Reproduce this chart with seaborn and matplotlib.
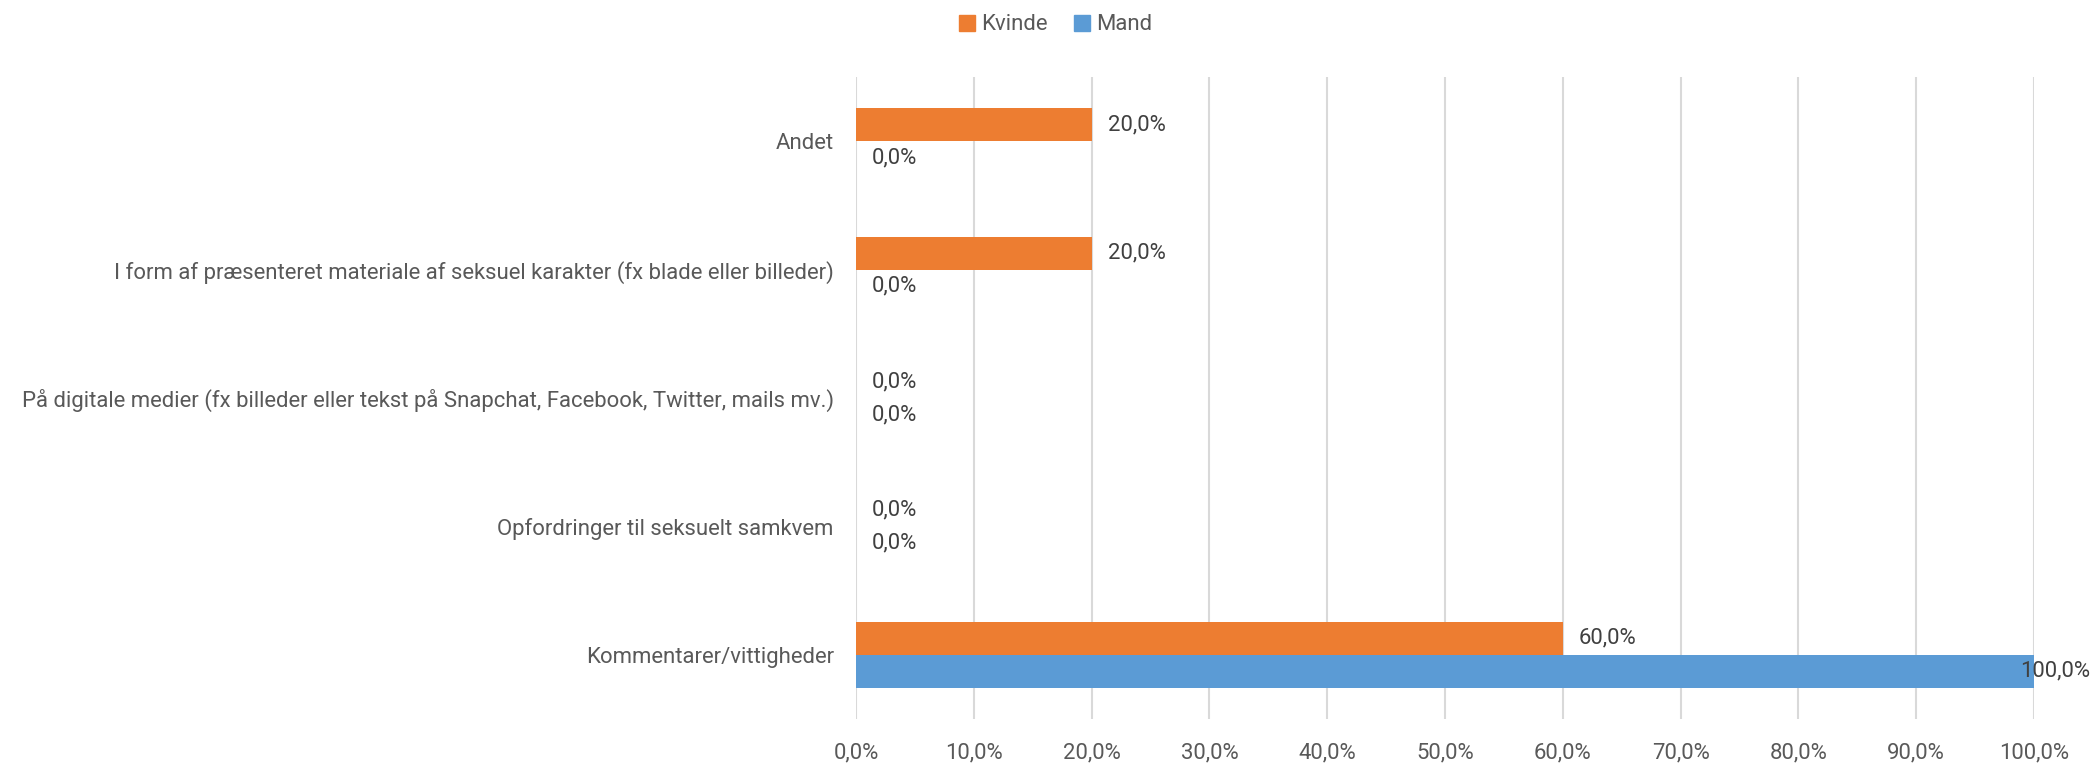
import matplotlib
matplotlib.use("Agg")
import matplotlib.pyplot as plt
import seaborn as sns
import pandas as pd
from matplotlib.ticker import FuncFormatter

categories = [
    "Andet",
    "I form af præsenteret materiale af seksuel karakter (fx blade eller billeder)",
    "På digitale medier (fx billeder eller tekst på Snapchat, Facebook, Twitter, mails mv.)",
    "Opfordringer til seksuelt samkvem",
    "Kommentarer/vittigheder",
]
kvinde = [0.20, 0.20, 0.0, 0.0, 0.60]
mand = [0.0, 0.0, 0.0, 0.0, 1.00]
series = ["Kvinde", "Mand"]
colors = {"Kvinde": "#ED7D31", "Mand": "#5B9BD5"}
xticks = [i / 10 for i in range(11)]

df = pd.DataFrame({
    "Kategori": categories * 2,
    "Andel": kvinde + mand,
    "Køn": ["Kvinde"] * len(categories) + ["Mand"] * len(categories),
})

sns.set_theme(style="white")
plt.rcParams["font.family"] = ["Roboto", "DejaVu Sans"]
TXT = "#595959"
FS = 15.9

fig = plt.figure(figsize=(20.93, 7.63), dpi=100)
ax = fig.add_axes([856 / 2093, 44 / 763, (2034 - 856) / 2093, (719 - 77) / 763])

sns.barplot(data=df, y="Kategori", x="Andel", hue="Køn", order=categories,
            hue_order=series, palette=colors, width=0.514, orient="h",
            saturation=1, ax=ax, legend=True, linewidth=0, edgecolor="none")

ax.set_xlim(0, 1)
ax.set_ylim(len(categories) - 0.5, -0.5)
ax.set_xticks(xticks)
ax.xaxis.set_major_formatter(FuncFormatter(lambda v, p: f"{v*100:.1f}%".replace(".", ",")))
ax.grid(axis="x", color="#D9D9D9", linewidth=1.5)
ax.set_axisbelow(True)
for s in ax.spines.values():
    s.set_visible(False)
ax.set_xlabel("")
ax.set_ylabel("")
ax.tick_params(axis="both", length=0, labelsize=FS, labelcolor=TXT)
ax.tick_params(axis="y", pad=16)
ax.tick_params(axis="x", pad=17)

# value labels
fig.canvas.draw()
renderer = fig.canvas.get_renderer()
for container, name in zip(ax.containers, series):
    for bar in container:
        w = bar.get_width()
        yc = bar.get_y() + bar.get_height() / 2
        lbl = f"{w*100:.1f}%".replace(".", ",")
        t = ax.annotate(lbl, (w, yc), xytext=(16, 0), textcoords="offset pixels",
                        ha="left", va="center", fontsize=FS, color="#404040")
        bb = t.get_window_extent(renderer)
        if bb.x1 > fig.bbox.width - 2:
            t.remove()
            ax.annotate(lbl, (1.0, yc), xycoords=("figure fraction", "data"),
                        xytext=(-3, 0), textcoords="offset pixels",
                        ha="right", va="center", fontsize=FS, color="#404040")

leg = ax.get_legend()
if leg is not None:
    leg.remove()
handles = [plt.Rectangle((0, 0), 1, 1, color=colors[s]) for s in series]
fig.legend(handles, series, loc="center", bbox_to_anchor=(1056 / 2093, 1 - 25 / 763),
           ncol=2, frameon=False, fontsize=FS, handlelength=0.7, handleheight=0.7,
           handletextpad=0.3, columnspacing=1.2, labelcolor=TXT)

fig.savefig("out.png", dpi=100)
